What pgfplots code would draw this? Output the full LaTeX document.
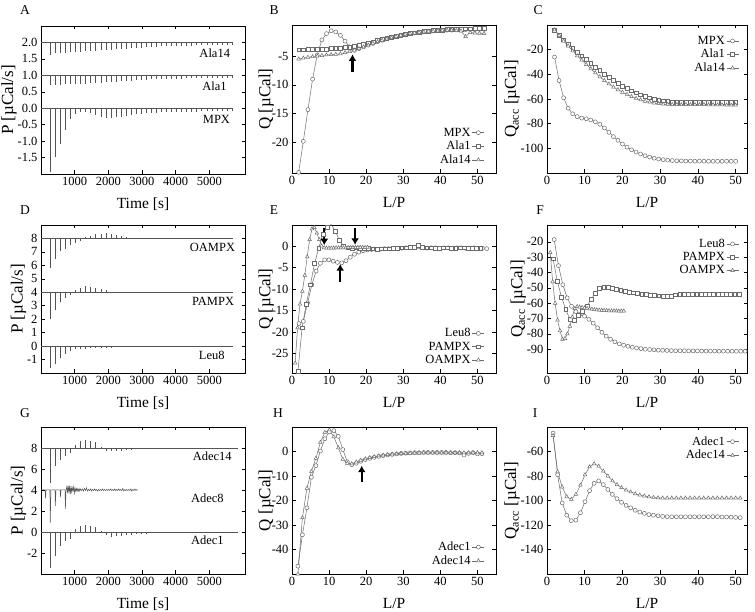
\documentclass[border=0pt]{standalone}
\usepackage{pgfplots}
\pgfplotsset{compat=1.18}
\usepackage{pgfplotstable}
\usepackage{fontspec}
\setmainfont{Liberation Serif}
\usetikzlibrary{arrows.meta}
\definecolor{sg}{gray}{0.42}
\definecolor{tg}{gray}{0.33}
\newcommand{\tfont}{\fontsize{12.5}{13}\selectfont}
\newcommand{\lfont}{\fontsize{15.5}{17}\selectfont}
\newcommand{\yfont}{\fontsize{17}{18}\selectfont}
\tikzset{arr/.style={-{Latex[length=6.5pt,width=8pt]}, line width=2.2pt, black}}
\pgfplotsset{
  panel/.style={
    scale only axis, width=204pt, height=148pt, anchor=north west,
    axis line style={line width=0.9pt},
    tick align=inside, major tick length=3.5pt,
    every tick/.style={black, line width=0.5pt},
    tick label style={font=\tfont},
    xlabel style={font=\lfont},
    ylabel style={font=\yfont},
    xlabel shift=5pt,
    /pgf/number format/assume math mode=true,
    /pgf/number format/1000 sep={},
    scaled ticks=false,
    legend style={draw=none, fill=none, font=\tfont, row sep=0.5pt, nodes={inner sep=1.5pt}},
    legend cell align=right,
    legend plot pos=right,
    legend image code/.code={\draw[mark repeat=2,mark phase=2,##1] plot coordinates {(0pt,0pt) (6pt,0pt) (12pt,0pt)};},
  },
  thermo/.style={panel, xmin=0, xmax=6060, xtick={1000,2000,3000,4000,5000}, xlabel={Time [s]}, ylabel={P [µCal/s]}, ylabel shift=-6pt},
  qpan/.style={panel, xmin=0, xmax=55, xtick={0,10,...,50}, xlabel={L/P}, ylabel={Q [µCal]}, ylabel shift=-9pt,
     legend style={at={(0.96,0.03)}, anchor=south east}},
  apan/.style={panel, width=200pt, xmin=0, xmax=53, xtick={0,10,...,50}, xlabel={L/P}, ylabel={Q\textsubscript{acc} [µCal]}, ylabel shift=-6pt},
  sO/.style={sg, line width=0.5pt, mark=*, mark size=2pt, mark options={fill=white, draw=sg, line width=0.5pt}},
  sS/.style={sg, line width=0.5pt, mark=square*, mark size=1.9pt, mark options={fill=white, draw=sg, line width=0.5pt}},
  sT/.style={sg, line width=0.5pt, mark=triangle*, mark size=2.1pt, mark options={fill=white, draw=sg, line width=0.5pt}},
  tl/.style={tg, line width=0.5pt},
}

% ---------- thermograms ----------
\pgfplotstableread{
t mpx ala1 ala14
275 -1.95 -0.30 -0.37
425 -1.48 -0.29 -0.33
575 -1.08 -0.28 -0.32
725 -0.66 -0.27 -0.31
875 -0.33 -0.27 -0.30
1025 -0.18 -0.26 -0.29
1175 -0.13 -0.26 -0.28
1325 -0.13 -0.25 -0.27
1475 -0.16 -0.24 -0.26
1625 -0.21 -0.23 -0.25
1775 -0.26 -0.22 -0.24
1925 -0.30 -0.21 -0.23
2075 -0.30 -0.20 -0.22
2225 -0.28 -0.19 -0.21
2375 -0.26 -0.18 -0.20
2525 -0.23 -0.17 -0.19
2675 -0.21 -0.16 -0.18
2825 -0.19 -0.15 -0.17
2975 -0.17 -0.14 -0.16
3125 -0.16 -0.13 -0.15
3275 -0.15 -0.12 -0.14
3425 -0.14 -0.12 -0.13
3575 -0.13 -0.11 -0.12
3725 -0.12 -0.11 -0.12
3875 -0.12 -0.10 -0.11
4025 -0.11 -0.10 -0.11
4175 -0.11 -0.10 -0.10
4325 -0.10 -0.09 -0.10
4475 -0.10 -0.09 -0.10
4625 -0.10 -0.09 -0.09
4775 -0.09 -0.08 -0.09
4925 -0.09 -0.08 -0.09
5075 -0.09 -0.08 -0.09
5225 -0.08 -0.08 -0.08
5375 -0.08 -0.08 -0.08
5525 -0.08 -0.07 -0.08
5675 -0.08 -0.07 -0.08
}\thA

\pgfplotstableread{
t leu pam oam
275 -1.6 -2.0 -2.2
425 -1.3 -1.35 -1.55
575 -0.85 -0.75 -0.9
725 -0.6 -0.45 -0.75
875 -0.4 -0.2 -0.5
1025 -0.25 0.15 -0.35
1175 -0.2 0.3 -0.2
1325 -0.2 0.45 0.1
1475 -0.18 0.4 0.2
1625 -0.15 0.35 0.3
1775 -0.15 0.25 0.35
1925 -0.12 0.15 0.4
2075 -0.12 0.05 0.35
2225 -0.1 -0.05 0.25
2375 -0.1 -0.05 0.15
2525 -0.1 -0.05 0.08
2675 -0.08 -0.05 -0.05
2825 -0.08 -0.05 -0.05
2975 -0.08 -0.05 -0.05
3125 -0.07 -0.05 -0.05
3275 -0.07 -0.05 -0.05
3425 -0.07 -0.05 -0.05
3575 -0.06 -0.05 -0.05
3725 -0.06 -0.05 -0.05
3875 -0.06 -0.05 -0.05
4025 -0.06 -0.05 -0.05
4175 -0.06 -0.05 -0.05
4325 -0.06 -0.05 -0.05
4475 -0.06 -0.05 -0.05
4625 -0.06 -0.05 -0.05
4775 -0.06 -0.05 -0.05
4925 -0.06 -0.05 -0.05
5075 -0.06 -0.05 -0.05
5225 -0.06 -0.05 -0.05
5375 -0.06 -0.05 -0.05
5525 -0.06 -0.05 -0.05
5675 -0.06 -0.05 -0.05
}\thD

\pgfplotstableread{
t a1 a14
275 -3.4 -3.3
425 -2.3 -1.75
575 -1.35 -1.1
725 -0.9 -0.75
875 -0.65 -0.45
1025 0.25 0.25
1175 0.6 0.7
1325 0.65 0.75
1475 0.6 0.7
1625 0.5 0.55
1775 0.1 0.1
1925 -0.3 -0.25
2075 -0.5 -0.3
2225 -0.4 -0.3
2375 -0.35 -0.25
2525 -0.3 -0.2
2675 -0.25 -0.15
2825 -0.2 -0.12
2975 -0.18 -0.1
3125 -0.15 -0.1
3275 -0.12 -0.08
3425 -0.12 -0.08
3575 -0.1 -0.08
3725 -0.1 -0.08
3875 -0.1 -0.08
4025 -0.1 -0.08
4175 -0.1 -0.08
4325 -0.1 -0.08
4475 -0.1 -0.08
4625 -0.1 -0.08
4775 -0.1 -0.08
4925 -0.1 -0.08
5075 -0.1 -0.08
5225 -0.1 -0.08
5375 -0.1 -0.08
5525 -0.1 -0.08
5675 -0.1 -0.08
}\thG

% ---------- B and C ----------
\pgfplotstableread{
x mpx ala1 ala14 xc cmpx cala1 cala14
1.80 -25.2 -3.9 -5.5 2.0 -26 -4 -4
3.05 -19.8 -3.9 -5.35 3.2 -45 -8 -8.5
4.30 -14.3 -3.85 -5.2 4.4 -59 -12 -13
5.55 -9.0 -3.85 -5.1 5.6 -67.5 -15.5 -17
6.80 -4.8 -3.8 -5.0 6.8 -72 -19 -21
8.05 -2.2 -3.8 -4.9 8.0 -74.3 -22 -25
9.30 -1.1 -3.75 -4.8 9.2 -75.5 -25 -28.5
10.55 -0.6 -3.7 -4.75 10.4 -76 -28 -32
11.80 -0.8 -3.7 -4.7 11.6 -77 -31 -35.5
13.05 -1.4 -3.6 -4.6 12.8 -78.5 -34 -38.8
14.30 -2.4 -3.5 -4.4 14.0 -80.5 -37 -42
15.55 -3.4 -3.4 -4.2 15.2 -83.5 -40 -45
16.80 -4.0 -3.25 -3.95 16.4 -87 -42.5 -47.8
18.05 -3.7 -3.1 -3.7 17.6 -90.5 -45 -50.3
19.30 -3.4 -2.9 -3.4 18.8 -93.5 -47.5 -52.5
20.55 -3.1 -2.7 -3.1 20.0 -96.5 -49.5 -54.5
21.80 -2.8 -2.5 -2.8 21.2 -99 -51.5 -56.3
23.05 -2.5 -2.3 -2.5 22.4 -101.2 -53.3 -58
24.30 -2.25 -2.1 -2.25 23.6 -103 -55 -59.5
25.55 -2.0 -1.9 -2.0 24.8 -104.6 -56.5 -60.7
26.80 -1.8 -1.7 -1.8 26.0 -106 -57.8 -61.8
28.05 -1.6 -1.5 -1.6 27.2 -107.1 -59 -62.6
29.30 -1.45 -1.35 -1.4 28.4 -108 -60 -63.3
30.55 -1.3 -1.2 -1.25 29.6 -108.7 -60.8 -63.8
31.80 -1.15 -1.05 -1.1 30.8 -109.2 -61.5 -64.2
33.05 -1.0 -0.95 -1.0 32.0 -109.6 -62 -64.4
34.30 -0.9 -0.85 -0.9 33.2 -109.9 -62.4 -64.5
35.55 -0.8 -0.75 -0.8 34.4 -110.1 -62.6 -64.6
36.80 -0.7 -0.65 -0.7 35.6 -110.2 -62.7 -64.6
38.05 -0.65 -0.55 -0.65 36.8 -110.3 -62.7 -64.6
39.30 -0.6 -0.5 -0.6 38.0 -110.3 -62.7 -64.6
40.55 -0.55 -0.45 -0.55 39.2 -110.4 -62.7 -64.6
41.80 -0.5 -0.4 -0.5 40.4 -110.4 -62.7 -64.6
43.05 -0.5 -0.35 -0.5 41.6 -110.4 -62.6 -64.6
44.30 -0.45 -0.3 -0.55 42.8 -110.5 -62.6 -64.7
45.55 -0.45 -0.3 -0.65 44.0 -110.5 -62.6 -64.7
46.80 -0.4 -0.25 -1.6 45.2 -110.5 -62.5 -64.8
48.05 -0.4 -0.25 -0.9 46.4 -110.5 -62.5 -64.8
49.30 -0.4 -0.2 -1.0 47.6 -110.5 -62.5 -64.9
50.55 -0.35 -0.2 -1.05 48.8 -110.5 -62.5 -65
51.80 -0.35 -0.2 -1.1 50.0 -110.5 -62.5 -65
}\tBC

% ---------- E and F ----------
\pgfplotstableread{
x q acc
1.90 -18.0 -18.5
3.05 -17.5 -35.5
4.20 -13.2 -48
5.35 -9.0 -56.5
6.50 -5.8 -62
7.65 -4.0 -65.5
8.80 -3.2 -67
9.95 -3.2 -68.5
11.10 -3.5 -70.5
12.25 -3.8 -73
13.40 -3.9 -76
14.55 -3.4 -79
15.70 -2.6 -81.5
16.85 -1.9 -83.5
18.00 -1.4 -85.2
19.15 -1.1 -86.5
20.30 -0.9 -87.4
21.45 -0.8 -88.1
22.60 -0.7 -88.7
23.75 -0.7 -89.2
24.90 -0.6 -89.6
26.05 -0.6 -90
27.20 -0.6 -90.2
28.35 -0.5 -90.4
29.50 -0.5 -90.6
30.65 -0.4 -90.7
31.80 -0.4 -90.8
32.95 -0.3 -90.9
34.10 -0.2 -91
35.25 -0.3 -91
36.40 -0.5 -91
37.55 -0.4 -91.1
38.70 -0.4 -91.1
39.85 -0.5 -91.1
41.00 -0.4 -91.2
42.15 -0.4 -91.2
43.30 -0.5 -91.2
44.45 -0.4 -91.2
45.60 -0.4 -91.3
46.75 -0.5 -91.3
47.90 -0.5 -91.3
49.05 -0.4 -91.3
50.20 -0.5 -91.3
51.35 -0.5 -91.3
52.50 -0.6 -91.3
}\tLeu

\pgfplotstableread{
x q acc
1.60 -29.1 -31
2.72 -19.0 -45.5
3.84 -13.5 -56
4.96 -9.0 -64
6.08 -4.0 -70.5
7.20 -0.5 -71
8.32 2.8 -68
9.44 4.3 -65
10.56 5.0 -62
11.68 3.5 -57.5
12.80 1.3 -53.5
13.92 0.0 -50.5
15.04 -0.4 -49.5
16.16 -0.5 -49.5
17.28 -0.4 -50
18.40 -0.5 -51
19.52 -0.6 -51.8
20.64 -0.5 -52.3
21.76 -0.6 -52.8
22.88 -0.7 -53.2
24.00 -0.6 -53.6
25.12 -0.6 -54
26.24 -0.6 -54.3
27.36 -0.5 -54.6
28.48 -0.5 -54.9
29.60 -0.4 -55.2
30.72 -0.4 -55.4
31.84 -0.3 -55.5
32.96 -0.2 -55.6
34.08 0.2 -54.5
35.20 -0.2 -54.3
36.32 -0.4 -54.3
37.44 -0.4 -54.3
38.56 -0.5 -54.3
39.68 -0.5 -54.3
40.80 -0.4 -54.3
41.92 -0.4 -54.3
43.04 -0.5 -54.3
44.16 -0.5 -54.3
45.28 -0.4 -54.3
46.40 -0.4 -54.3
47.52 -0.5 -54.3
48.64 -0.5 -54.3
49.76 -0.5 -54.3
50.88 -0.5 -54.3
}\tPam

\pgfplotstableread{
x q acc
0.85 -27.2 -27
1.50 -19.0 -46
2.15 -13.5 -60
2.80 -10.5 -71
3.45 -6.8 -78
4.10 -2.5 -83.5
4.75 1.5 -83
5.40 4.0 -80
6.05 4.3 -75
6.70 3.0 -69
7.35 1.5 -63.5
8.00 0.0 -62.2
8.65 -0.4 -62.5
9.30 -0.45 -62.8
9.95 -0.45 -63.1
10.60 -0.45 -63.4
11.25 -0.45 -63.7
11.90 -0.4 -63.9
12.55 -0.4 -64.1
13.20 -0.4 -64.3
13.85 -0.4 -64.5
14.50 -0.4 -64.6
15.15 -0.35 -64.7
15.80 -0.35 -64.8
16.45 -0.35 -64.9
17.10 -0.35 -65
17.75 -0.3 -65
18.40 -0.3 -65
19.05 -0.3 -65.1
19.70 -0.3 -65.1
20.35 -0.3 -65.1
}\tOam

% ---------- H and I ----------
\pgfplotstableread{
x h1 h14 i1 i14
1.60 -46.8 -50 -45 -47
2.81 -34 -27 -79 -76.5
4.02 -23 -15 -102 -89
5.23 -10.5 -8.1 -112 -97
6.44 -5.8 -2.8 -116.5 -99
7.65 0.2 3.7 -116 -95
8.86 5.2 7.8 -110 -87.5
10.07 8.0 8.8 -101 -79
11.28 8.5 6.0 -92 -72.5
12.49 6.2 1.5 -86 -70
13.70 0.8 -3.2 -84 -72
14.91 -4.2 -4.8 -87 -76
16.12 -5.4 -5.0 -91 -80
17.33 -4.8 -4.3 -95 -84
18.54 -4.0 -3.6 -98.5 -87
19.75 -3.3 -3.0 -101.5 -89.5
20.96 -2.8 -2.5 -104 -91.5
22.17 -2.4 -2.1 -106 -93
23.38 -2.0 -1.8 -108 -94.5
24.59 -1.7 -1.5 -109.5 -95.5
25.80 -1.4 -1.3 -110.5 -96.3
27.01 -1.2 -1.1 -111.5 -97
28.22 -1.0 -1.0 -112 -97.5
29.43 -0.8 -0.9 -112.5 -97.8
30.64 -0.7 -0.8 -113 -98
31.85 -0.6 -0.7 -113.2 -98
33.06 -0.5 -0.6 -113.3 -98
34.27 -0.5 -0.6 -113.3 -98
35.48 -0.4 -0.5 -113.3 -98
36.69 -0.4 -0.5 -113.3 -98
37.90 -0.4 -0.5 -113.3 -98
39.11 -0.4 -0.5 -113.3 -98
40.32 -0.4 -0.5 -113.3 -98
41.53 -0.4 -0.5 -113.3 -98
42.74 -0.5 -0.5 -113.3 -98
43.95 -0.5 -0.5 -113.2 -98
45.16 -0.6 -0.5 -113.2 -98
46.37 -1.5 -0.5 -113.5 -98
47.58 -0.8 -0.5 -113.5 -98
48.79 -0.5 -0.5 -113.6 -98
50.00 -1.0 -0.5 -113.8 -98
51.21 -0.9 -0.5 -114 -98
}\tHI

\begin{document}
\begin{tikzpicture}
\useasboundingbox (0,0) rectangle (755pt,612pt);
\tikzset{plab/.style={font=\fontsize{13.5}{14}\selectfont}}
\node[plab] at (25pt,602pt) {A};
\node[plab] at (274pt,602pt) {B};
\node[plab] at (538pt,602pt) {C};
\node[plab] at (25pt,402pt) {D};
\node[plab] at (274pt,402pt) {E};
\node[plab] at (540pt,402pt) {F};
\node[plab] at (25pt,199pt) {G};
\node[plab] at (278pt,199pt) {H};
\node[plab] at (535pt,199pt) {I};

% ===== A =====
\begin{axis}[thermo, at={(41pt,586pt)}, ymin=-2, ymax=2.5, ytick={-1.5,-1,-0.5,0,0.5,1,1.5,2},
  yticklabel style={/pgf/number format/fixed, /pgf/number format/precision=1, /pgf/number format/fixed zerofill}]
\addplot[tl] coordinates {(0,0) (5700,0)};
\addplot[tl] coordinates {(0,1) (5700,1)};
\addplot[tl] coordinates {(0,2) (5700,2)};
\addplot[tl, quiver={u=0, v=\thisrow{mpx}}] table[x=t, y expr=0] {\thA};
\addplot[tl, quiver={u=0, v=\thisrow{ala1}}] table[x=t, y expr=1] {\thA};
\addplot[tl, quiver={u=0, v=\thisrow{ala14}}] table[x=t, y expr=2] {\thA};
\node[anchor=east, font=\tfont, yshift=-11pt] at (axis cs:5720,2) {Ala14};
\node[anchor=east, font=\tfont, yshift=-11pt] at (axis cs:5620,1) {Ala1};
\node[anchor=east, font=\tfont, yshift=-11pt] at (axis cs:5720,0) {MPX};
\end{axis}

% ===== B =====
\begin{axis}[qpan, at={(292pt,587pt)}, ymin=-25.3, ymax=0.4, ytick={-20,-15,-10,-5}]
\addplot[sO] table[x=x, y=mpx] {\tBC};
\addplot[sS] table[x=x, y=ala1] {\tBC};
\addplot[sT] table[x=x, y=ala14] {\tBC};
\legend{MPX, Ala1, Ala14}
\draw[arr] (axis cs:16.3,-7.8) -- (axis cs:16.3,-4.7);
\end{axis}

% ===== C =====
\begin{axis}[apan, at={(547pt,587pt)}, ymin=-120, ymax=0, ytick={-100,-80,-60,-40,-20},
  legend style={at={(0.975,0.95)}, anchor=north east}]
\addplot[sO] table[x=xc, y=cmpx] {\tBC};
\addplot[sS] table[x=xc, y=cala1] {\tBC};
\addplot[sT] table[x=xc, y=cala14] {\tBC};
\legend{MPX, Ala1, Ala14}
\end{axis}

% ===== D =====
\begin{axis}[thermo, at={(41pt,387pt)}, ymin=-2, ymax=9, ytick={-1,0,...,8}]
\addplot[tl] coordinates {(0,0) (5700,0)};
\addplot[tl] coordinates {(0,4) (5700,4)};
\addplot[tl] coordinates {(0,8) (5700,8)};
\addplot[tl, quiver={u=0, v=\thisrow{leu}}] table[x=t, y expr=0] {\thD};
\addplot[tl, quiver={u=0, v=\thisrow{pam}}] table[x=t, y expr=4] {\thD};
\addplot[tl, quiver={u=0, v=\thisrow{oam}}] table[x=t, y expr=8] {\thD};
\node[anchor=east, font=\tfont, yshift=-9pt] at (axis cs:5870,8) {OAMPX};
\node[anchor=east, font=\tfont, yshift=-9pt] at (axis cs:5840,4) {PAMPX};
\node[anchor=east, font=\tfont, yshift=-9pt] at (axis cs:5560,0) {Leu8};
\end{axis}

% ===== E =====
\begin{axis}[qpan, at={(292pt,387pt)}, ymin=-29.5, ymax=4.9, ytick={-25,-20,...,0}]
\addplot[sO] table[x=x, y=q] {\tLeu};
\addplot[sS] table[x=x, y=q] {\tPam};
\addplot[sT] table[x=x, y=q] {\tOam};
\legend{Leu8, PAMPX, OAMPX}
\draw[arr] (axis cs:8.7,4.3) -- (axis cs:8.7,0.2);
\draw[arr] (axis cs:17.0,4.3) -- (axis cs:17.0,0.3);
\draw[arr] (axis cs:13.0,-8.4) -- (axis cs:13.0,-4.2);
\end{axis}

% ===== F =====
\begin{axis}[apan, at={(547pt,387pt)}, ymin=-105.5, ymax=-9, ytick={-90,-80,...,-20},
  legend style={at={(0.975,0.93)}, anchor=north east}]
\addplot[sO] table[x=x, y=acc] {\tLeu};
\addplot[sS] table[x=x, y=acc] {\tPam};
\addplot[sT] table[x=x, y=acc] {\tOam};
\legend{Leu8, PAMPX, OAMPX}
\end{axis}

% ===== G =====
\begin{axis}[thermo, at={(41pt,185pt)}, height=147pt, ymin=-4, ymax=10, ytick={-2,0,...,8}]
\addplot[tl] coordinates {(0,0) (5850,0)};
\addplot[tl] coordinates {(0,8) (5850,8)};
\addplot[tl, quiver={u=0, v=\thisrow{a1}}] table[x=t, y expr=0] {\thG};
\addplot[tl, quiver={u=0, v=\thisrow{a14}}] table[x=t, y expr=8] {\thG};
\addplot[tl] coordinates {(0,4) (120,4) (135,3.2) (150,4) (265,4) (275,0.9) (295,4) (415,4) (425,2.5) (445,4) (565,4) (575,3.3) (595,4) (715,4) (725,2.2) (745,4)
 (770,4.35) (790,3.7) (810,4.4) (830,3.8) (850,4.3) (870,3.6) (890,4.4) (910,3.8) (930,4.2) (950,3.9) (970,4.3) (990,3.7) (1010,4.2) (1030,3.9) (1050,4.15) (1070,3.85) (1090,4.1) (1110,3.9) (1130,4.15) (1150,3.9) (1170,4.1) (1200,3.95) (1230,4.1) (1260,3.9) (1290,4.15) (1320,3.95) (1350,4.2) (1380,3.9) (1410,4.05) (1440,3.95) (1470,4.1) (1500,3.9) (1530,4.05) (1560,3.95) (1590,4.1) (1620,3.95) (1650,4.05) (1680,3.9) (1710,4.05) (1740,3.95) (1770,4.05) (1800,3.95) (1830,4.1) (1860,3.95) (1890,4.05) (1920,3.95) (1950,4.05) (1980,3.95) (2010,4.05) (2040,3.95) (2070,4.1) (2100,3.95) (2130,4.05) (2160,3.95) (2190,4.1) (2220,3.95) (2250,4.05) (2280,3.95) (2310,4.1) (2340,3.95) (2370,4.05) (2400,3.95) (2430,4.15) (2460,3.9) (2490,4.05) (2520,3.95) (2550,4.05) (2580,3.95) (2610,4.05) (2640,3.95) (2670,4.1) (2700,3.9) (2730,4.05) (2760,3.95) (2790,4.1) (2820,3.95) (2850,4.05) (2870,4)};
\node[anchor=east, font=\tfont, yshift=-8pt] at (axis cs:5770,8) {Adec14};
\node[anchor=east, font=\tfont, yshift=-8pt] at (axis cs:5530,4) {Adec8};
\node[anchor=east, font=\tfont, yshift=-8.5pt] at (axis cs:5530,0) {Adec1};
\end{axis}

% ===== H =====
\begin{axis}[qpan, height=147pt, at={(292pt,185pt)}, ymin=-50, ymax=10, ytick={-40,-30,...,0}]
\addplot[sO] table[x=x, y=h1] {\tHI};
\addplot[sT] table[x=x, y=h14] {\tHI};
\legend{Adec1, Adec14}
\draw[arr] (axis cs:18.8,-12.4) -- (axis cs:18.8,-5.8);
\end{axis}

% ===== I =====
\begin{axis}[apan, height=147pt, at={(547pt,185pt)}, ymin=-160, ymax=-40, ytick={-140,-120,...,-60},
  legend style={at={(0.975,0.96)}, anchor=north east}]
\addplot[sO] table[x=x, y=i1] {\tHI};
\addplot[sT] table[x=x, y=i14] {\tHI};
\legend{Adec1, Adec14}
\end{axis}
\end{tikzpicture}
\end{document}
